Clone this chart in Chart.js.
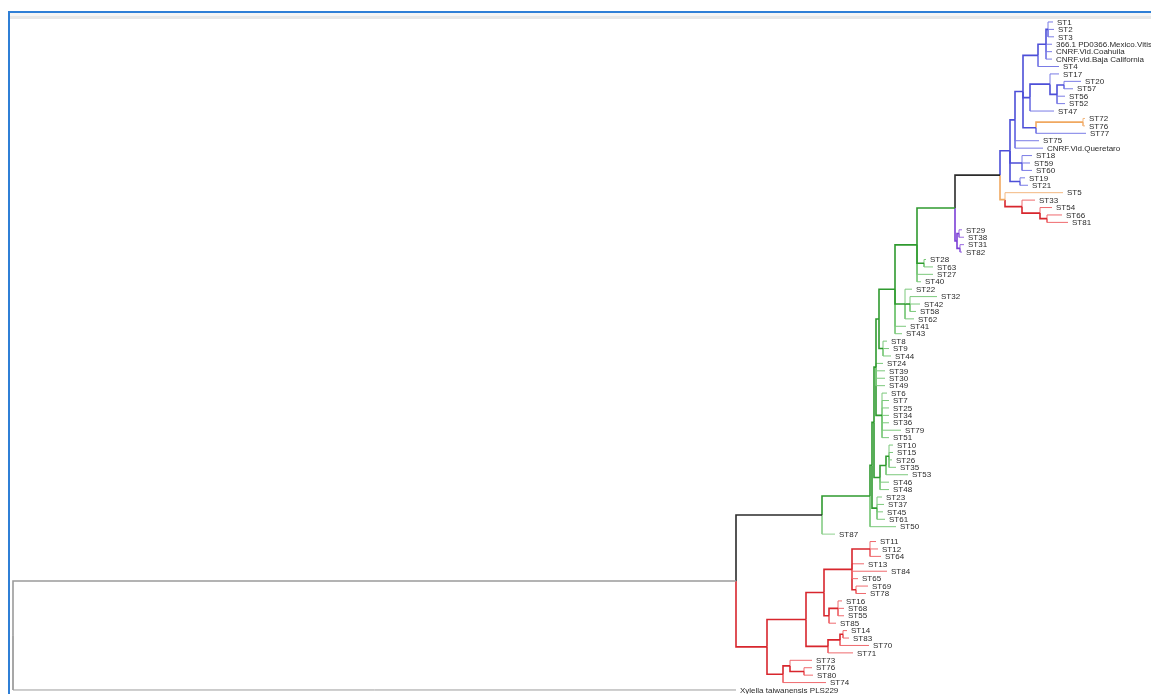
<!DOCTYPE html>
<html>
<head>
<meta charset="utf-8">
<script src="https://cdn.jsdelivr.net/npm/chart.js@4.4.1/dist/chart.umd.min.js"></script>
<style>
  html, body { margin: 0; padding: 0; background: #fff; overflow: hidden; }
  #marco { position: absolute; left: 8px; top: 11px; width: 1143px; height: 683px;
           border-top: 2px solid #2f7fd6; border-left: 2px solid #2f7fd6; }
  #banda { position: absolute; left: 10px; top: 13px; width: 1141px; height: 6px;
           background: linear-gradient(#f5f5f5 0 50%, #e7e7e7 50% 100%); }
  #caja { position: absolute; left: 0; top: 0; width: 1151px; height: 694px; }
</style>
</head>
<body>
<div id="marco"></div>
<div id="banda"></div>
<div id="caja"><canvas id="arbol" width="1151" height="694"></canvas></div>
<script>
// arbol en newick, el numero tras ':' es la profundidad desde la raiz, '|x' = color del clado
const arbolNewick = `
(
 (
  (
   (
    (
     (
      (
       (
        (
         (
          (
           (
            (
             (
              (
               (
                ((ST1:1040,ST2:1041,ST3:1041):1035,'366.1 PD0366.Mexico.Vitis.vinifera':1039,'CNRF.Vid.Coahuila':1039,'CNRF.vid.Baja California':1039):1033,
                ST4:1046
               ):1025,
               (
                (ST17:1046,((ST20:1068,ST57:1060):1051,ST56:1052,ST52:1052):1044):1037,
                ST47:1041
               ):1017,
               ((ST72:1072,ST76:1072):1070|O,ST77:1073):1023
              ):1010,
              ST75:1026,
              'CNRF.Vid.Queretaro':1030
             ):1002,
             (ST18:1019,ST59:1017,ST60:1019):1009,
             (ST19:1012,ST21:1015):1007
            ):997|B,
            (ST5:1050,(ST33:1022,(ST54:1039,(ST66:1049,ST81:1055):1034):1027):1009|R):992|O
           ):987|k,
           ((ST29:949,ST38:951):946,(ST31:951,ST82:949):947):944|P
          ):942,
          (ST28:913,ST63:920):911,
          ST27:920,
          ST40:908
         ):904,
         (ST22:899,(ST32:924,ST42:907,ST58:903):897,ST62:901):892,
         ST41:893,
         ST43:889
        ):882,
        (ST8:874,ST9:876,ST44:878):870
       ):866,
       ST24:870,ST39:872,ST30:872,ST49:872,
       (ST6:874,ST7:876,ST25:876,ST34:876,ST36:876,ST79:888,ST51:876):869
      ):863,
      (((ST10:880,ST15:880,ST26:879,ST35:883):876,ST53:895):873,ST46:876,ST48:876):867
     ):861,
     (ST23:869,ST37:871,ST45:870,ST61:872):864
    ):859,
    ST50:883
   ):857|G,
   ST87:822|LG
  ):809|k,
  (
   (
    (
     ((ST11:863,ST12:865,ST64:868):857,ST13:851,ST84:874,ST65:845,(ST69:855,ST78:853):843):839,
     ((ST16:829,ST68:831,ST55:831):825,ST85:823):816
    ):811,
    (((ST14:834,ST83:836):830,ST70:856):827,ST71:840):815
   ):793,
   ((ST73:799,(ST76:799,ST80:800):791):777,ST74:813):770
  ):754|R
 ):723,
 'Xylella taiwanensis PLS229':723
):0|g`;

const claveColor = ['g', 'k', 'G', 'LG', 'B', 'O', 'R', 'P'];
const colorRama  = ['#9b9b9b', '#2b2b2b', '#2f9a2f', '#8fd08f', '#4d4fd8', '#f0a860', '#d8262d', '#7b3fd6'];
const colorHoja  = ['#9b9b9b', '#555555', '#7cc97c', '#8fd08f', '#7a7ce6', '#f3b880', '#ef6a6e', '#9a6ae0'];

function leerArbol(str) {
  let i = 0;
  const hay = re => i < str.length && re.test(str[i]);
  const ws = () => { while (hay(/\s/)) i++; };
  function etiqueta() {
    let s = '';
    if (str[i] === "'") { i++; while (i < str.length && str[i] !== "'") s += str[i++]; i++; }
    else while (i < str.length && !"(),:|; \n".includes(str[i])) s += str[i++];
    return s;
  }
  function nodo() {
    ws();
    const n = { children: [] };
    if (str[i] === '(') {
      i++;
      n.children.push(nodo()); ws();
      while (str[i] === ',') { i++; n.children.push(nodo()); ws(); }
      i++; ws();
    }
    n.name = etiqueta(); ws();
    if (str[i] === ':') { i++; ws(); let s = ''; while (hay(/[0-9.]/)) s += str[i++]; n.depth = parseFloat(s); ws(); }
    if (str[i] === '|') { i++; let s = ''; while (hay(/[A-Za-z]/)) s += str[i++]; n.colour = s; ws(); }
    return n;
  }
  return nodo();
}

const raiz = leerArbol(arbolNewick);
const hojas = [];

function ubicar(n, colorPadre) {
  n.colour = n.colour || colorPadre;
  if (!n.children.length) { n.y = hojas.length; hojas.push(n); return; }
  n.children.forEach(c => ubicar(c, n.colour));
  n.y = (n.children[0].y + n.children[n.children.length - 1].y) / 2;
}
ubicar(raiz, 'g');

const datasets = [];
function ramas(n) {
  n.children.forEach(c => {
    const hoja = !c.children.length;
    const k = claveColor.indexOf(c.colour);
    datasets.push({
      data: [{ x: n.depth, y: n.y }, { x: n.depth, y: c.y }, { x: c.depth, y: c.y }],
      borderColor: hoja ? colorHoja[k] : colorRama[k],
      borderWidth: hoja ? 1 : 1.6,
      showLine: true,
      pointRadius: 0,
      fill: false,
      clip: false
    });
    ramas(c);
  });
}
ramas(raiz);

const nombresHojas = {
  id: 'nombresHojas',
  afterDatasetsDraw(chart) {
    const { ctx, scales: { x, y } } = chart;
    ctx.save();
    ctx.font = '8px "Liberation Sans", Arial, sans-serif';
    ctx.fillStyle = '#2a2a2a';
    ctx.textBaseline = 'middle';
    hojas.forEach(t => ctx.fillText(t.name, x.getPixelForValue(t.depth) + 4, y.getPixelForValue(t.y) + 0.5));
    ctx.restore();
  }
};

new Chart(document.getElementById('arbol'), {
  type: 'scatter',
  data: { datasets: datasets },
  options: {
    responsive: false,
    animation: false,
    layout: { padding: 0 },
    plugins: { legend: { display: false }, tooltip: { enabled: false } },
    elements: { line: { tension: 0 } },
    scales: {
      x: { type: 'linear', display: false, min: -13, max: 1138 },
      y: { type: 'linear', display: false, reverse: true, min: -2.96, max: 90.54 }
    }
  },
  plugins: [nombresHojas]
});
</script>
</body>
</html>
